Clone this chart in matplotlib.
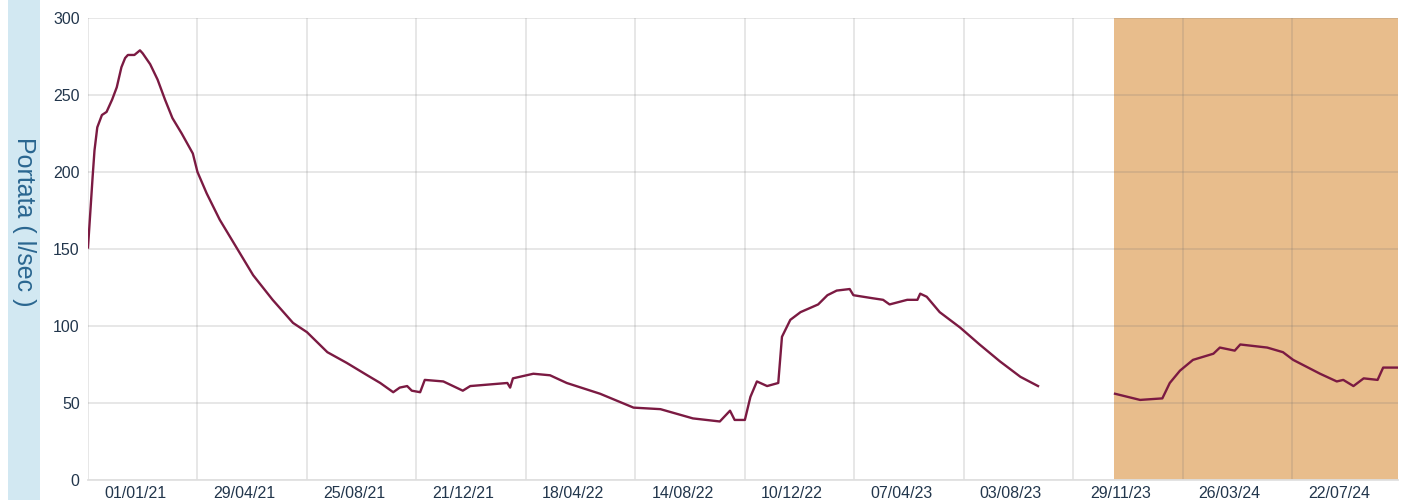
import matplotlib
matplotlib.use("Agg")
import matplotlib.pyplot as plt
import matplotlib.transforms as mtransforms
import pandas as pd

# ---- data ----
seg1_dates = [
    "2021-01-01", "2021-01-06", "2021-01-08", "2021-01-11", "2021-01-16", "2021-01-21",
    "2021-01-27", "2021-02-01", "2021-02-06", "2021-02-10", "2021-02-13", "2021-02-20",
    "2021-02-26", "2021-03-01", "2021-03-09", "2021-03-17", "2021-03-25", "2021-04-02",
    "2021-04-12", "2021-04-24", "2021-04-29", "2021-05-09", "2021-05-23", "2021-06-10",
    "2021-06-28", "2021-07-19", "2021-08-10", "2021-08-25", "2021-09-16", "2021-10-07",
    "2021-10-29", "2021-11-12", "2021-11-26", "2021-12-03", "2021-12-11", "2021-12-16",
    "2021-12-25", "2021-12-30", "2022-01-19", "2022-02-09", "2022-02-17", "2022-03-29",
    "2022-04-01", "2022-04-04", "2022-04-26", "2022-05-14", "2022-06-01", "2022-07-07",
    "2022-08-12", "2022-09-10", "2022-10-15", "2022-11-13", "2022-11-24", "2022-11-29",
    "2022-12-10", "2022-12-16", "2022-12-23", "2023-01-03", "2023-01-15", "2023-01-19",
    "2023-01-28", "2023-02-08", "2023-02-27", "2023-03-09", "2023-03-19", "2023-04-02",
    "2023-04-06", "2023-04-27", "2023-05-08", "2023-05-15", "2023-06-03", "2023-06-14",
    "2023-06-17", "2023-06-24", "2023-07-08", "2023-07-30", "2023-08-20", "2023-09-11",
    "2023-10-03", "2023-10-22",
]
seg1_values = [
    151, 197, 214, 229, 237, 239,
    247, 255, 268, 274, 276, 276,
    279, 277, 270, 260, 247, 235,
    225, 212, 200, 186, 169, 151,
    133, 117, 102, 96, 83, 76,
    68, 63, 57, 60, 61, 58,
    57, 65, 64, 58, 61, 63,
    60, 66, 69, 68, 63, 56,
    47, 46, 40, 38, 45, 39,
    39, 54, 64, 61, 63, 93,
    104, 109, 114, 120, 123, 124,
    120, 118, 117, 114, 117, 117,
    121, 119, 109, 99, 88, 77,
    67, 61,
]
seg2_dates = [
    "2024-01-13", "2024-02-09", "2024-03-04", "2024-03-12", "2024-03-23", "2024-04-06",
    "2024-04-28", "2024-05-05", "2024-05-21", "2024-05-27", "2024-06-25", "2024-07-12",
    "2024-07-23", "2024-08-21", "2024-09-08", "2024-09-15", "2024-09-26", "2024-10-07",
    "2024-10-22", "2024-10-28", "2024-11-13",
]
seg2_values = [
    56, 52, 53, 63, 71, 78,
    82, 86, 84, 88, 86, 83,
    78, 69, 64, 65, 61, 66,
    65, 73, 73,
]
tick_dates = ["2021-01-01", "2021-04-29", "2021-08-25", "2021-12-21", "2022-04-18",
              "2022-08-14", "2022-12-10", "2023-04-07", "2023-08-03", "2023-11-29",
              "2024-03-26", "2024-07-22"]
tick_labels = ["01/01/21", "29/04/21", "25/08/21", "21/12/21", "18/04/22", "14/08/22",
               "10/12/22", "07/04/23", "03/08/23", "29/11/23", "26/03/24", "22/07/24"]
shade_start, shade_end = "2024-01-12", "2024-11-13"
y_ticks = [0, 50, 100, 150, 200, 250, 300]
y_label = "Portata ( l/sec )"

# ---- figure ----
plt.rcParams['font.family'] = ['Liberation Sans', 'DejaVu Sans']
fig = plt.figure(figsize=(14.07, 5.0), dpi=100)
ax = fig.add_axes([88/1407, 20/500, (1398-88)/1407, (480-18)/500])

# blue label band
fig.patches.append(plt.Rectangle((8/1407, 0), 32/1407, 1, transform=fig.transFigure,
                                 facecolor='#d2e8f2', edgecolor='none', zorder=0))
fig.text(24/1407, 0.556, y_label, rotation=270, ha='center', va='center',
         fontsize=18, color='#2a6690')

d1 = pd.to_datetime(seg1_dates)
d2 = pd.to_datetime(seg2_dates)
ax.axvspan(pd.Timestamp(shade_start), pd.Timestamp(shade_end), facecolor='#e8bd8c',
           edgecolor='none', zorder=0.5)
ax.plot(d1, seg1_values, color='#7b1a42', lw=1.7, zorder=3)
ax.plot(d2, seg2_values, color='#7b1a42', lw=1.7, zorder=3)

ax.set_xlim(pd.Timestamp("2021-01-01"), pd.Timestamp(shade_end))
ax.set_ylim(0, 300)
ax.set_yticks(y_ticks)
ax.set_xticks(pd.to_datetime(tick_dates))
ax.set_xticklabels(tick_labels)

ax.grid(True, color='#6e6e6e', alpha=0.18, lw=1.3, zorder=1)
for s in ['top', 'right', 'left']:
    ax.spines[s].set_visible(False)
ax.spines['bottom'].set_color('#e0e0e0')
ax.spines['bottom'].set_linewidth(1.3)
ax.tick_params(axis='both', length=0, labelsize=11.5, colors='#22364c')
ax.tick_params(axis='y', pad=6)
ax.tick_params(axis='x', pad=4)

offset = mtransforms.ScaledTranslation(47/100, 0, fig.dpi_scale_trans)
for lab in ax.get_xticklabels():
    lab.set_transform(lab.get_transform() + offset)

fig.savefig("out.png", dpi=100)
